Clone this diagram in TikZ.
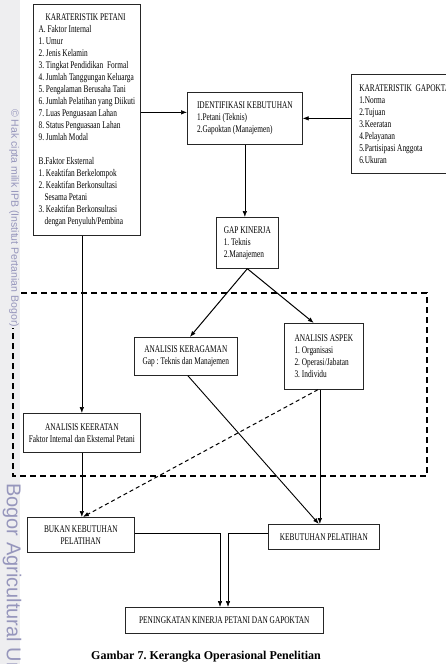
\documentclass[tikz,border=0pt]{standalone}
\usepackage{fontspec}
\setmainfont{Liberation Serif}
\newfontfamily\boxfont[FakeStretch=0.72]{Liberation Serif}
\newfontfamily\markfont{Liberation Sans}
\usepackage{xcolor}
\usetikzlibrary{arrows.meta,positioning,calc}
\definecolor{markblue}{RGB}{150,150,188}
\definecolor{stripgray}{RGB}{238,238,240}
\frenchspacing
\tikzset{
  box/.style = {draw = black!85, line width = .7pt, anchor = north west, inner sep = 0pt,
                font = \boxfont\fontsize{10.2}{12}\selectfont},
  arr/.style = {-{Latex[length=6pt,width=4.5pt]}, line width = .6pt},
  frame/.style = {line width = 1.6pt, dash pattern = on 6pt off 4pt}
}

\begin{document}
\begin{tikzpicture}[x = 1pt, y = -1pt]
\useasboundingbox (0,0) rectangle (446,664);
\fill[stripgray] (0,0) rectangle (20,664);

% dashed frame around the analysis part
\draw[frame] (13,293) rectangle (427,476);

\node[box, align = left, minimum width = 107pt, minimum height = 231pt] (petani) at (33,4)
  {\makebox[94pt]{KARATERISTIK PETANI}\\
   A. Faktor Internal\\
   1. Umur\\
   2. Jenis Kelamin\\
   3. Tingkat Pendidikan\ \ Formal\\
   4. Jumlah Tanggungan Keluarga\\
   5. Pengalaman Berusaha Tani\\
   6. Jumlah Pelatihan yang Diikuti\\
   7. Luas Penguasaan Lahan\\
   8. Status Penguasaan Lahan\\
   9. Jumlah Modal\\[12pt]
   B.Faktor Eksternal\\
   1. Keaktifan Berkelompok\\
   2. Keaktifan Berkonsultasi\\
   \hspace*{6pt}Sesama Petani\\
   3. Keaktifan Berkonsultasi\\
   \hspace*{6pt}dengan Penyuluh/Pembina};
\node[box, align = left, minimum width = 115pt, minimum height = 52pt] (ident) at (187,92)
  {IDENTIFIKASI KEBUTUHAN\\1.Petani (Teknis)\\2.Gapoktan (Manajemen)};
\node[box, align = left, minimum width = 112pt, minimum height = 99pt] (gapoktan) at (351,74)
  {KARATERISTIK\ \ GAPOKTAN\\1.Norma\\2.Tujuan\\3.Keeratan\\4.Pelayanan\\5.Partisipasi Anggota\\6.Ukuran};
\node[box, align = left, minimum width = 62pt, minimum height = 51pt] (gap) at (216,217)
  {GAP KINERJA\\1. Teknis\\2.Manajemen};
\node[box, align = center, minimum width = 103pt, minimum height = 38pt] (ragam) at (134,337)
  {ANALISIS KERAGAMAN\\Gap : Teknis dan Manajemen};
\node[box, align = left, minimum width = 79pt, minimum height = 66pt] (aspek) at (284,323)
  {ANALISIS ASPEK\\1. Organisasi\\2. Operasi/Jabatan\\3. Individu};
\node[box, align = center, minimum width = 117pt, minimum height = 39pt] (erat) at (23,413)
  {ANALISIS KEERATAN\\Faktor Internal dan Eksternal Petani};
\node[box, align = center, minimum width = 107pt, minimum height = 35pt] (bukan) at (27,517)
  {BUKAN KEBUTUHAN\\PELATIHAN};
\node[box, align = center, minimum width = 111pt, minimum height = 25pt] (butuh) at (268,524)
  {KEBUTUHAN PELATIHAN};
\node[box, align = center, minimum width = 198pt, minimum height = 26pt] (naik) at (125,607)
  {PENINGKATAN KINERJA PETANI DAN GAPOKTAN};
\node[font = \bfseries\fontsize{12}{14}\selectfont] (judul) at (206,657)
  {Gambar 7. Kerangka Operasional Penelitian};

\coordinate (inL) at (220,607);
\coordinate (inR) at (228,607);

\draw[arr] ([yshift=6pt]ident.west -| petani.east) -- ([yshift=6pt]ident.west);
\draw[arr] (gapoktan.west |- ident.east) -- (ident.east);
\draw[arr] (ident.south) -- (ident.south |- gap.north);
\draw[arr, line width = 1pt] (gap.south) -- ([xshift=4pt]ragam.north);
\draw[arr, line width = 1pt] (gap.south) -- ([xshift=-10pt]aspek.north);
\draw[arr] (erat.north |- petani.south) -- (erat.north);
\draw[arr] (erat.south) -- (erat.south |- bukan.north);
\draw[arr, line width = 1pt, dash pattern = on 4pt off 3pt] ([xshift=-6pt]aspek.south) -- ([xshift=2pt]bukan.north);
\draw[arr, line width = .9pt] ([xshift=2pt]ragam.south) -- ([xshift=-5pt]butuh.north);
\draw[arr] ([xshift=-4pt]aspek.south) -- ([xshift=-4pt]aspek.south |- butuh.north);
\draw[arr] ([yshift=2pt]bukan.east) -| (inL);
\draw[arr] ([yshift=4pt]butuh.west) -| (inR);

% side watermark
\node[text = markblue, fill = stripgray, rotate = -90, anchor = west, inner sep = 1pt,
      font = \markfont\fontsize{10.5}{12}\selectfont] (hak) at (14,108)
  {\textcopyright\ Hak cipta milik IPB (Institut Pertanian Bogor)};
\node[text = markblue, rotate = -90, anchor = west, inner sep = 0pt,
      font = \markfont\fontsize{20}{22}\selectfont] (bogor) at (12,483)
  {Bogor Agricultural University};
\end{tikzpicture}
\end{document}
